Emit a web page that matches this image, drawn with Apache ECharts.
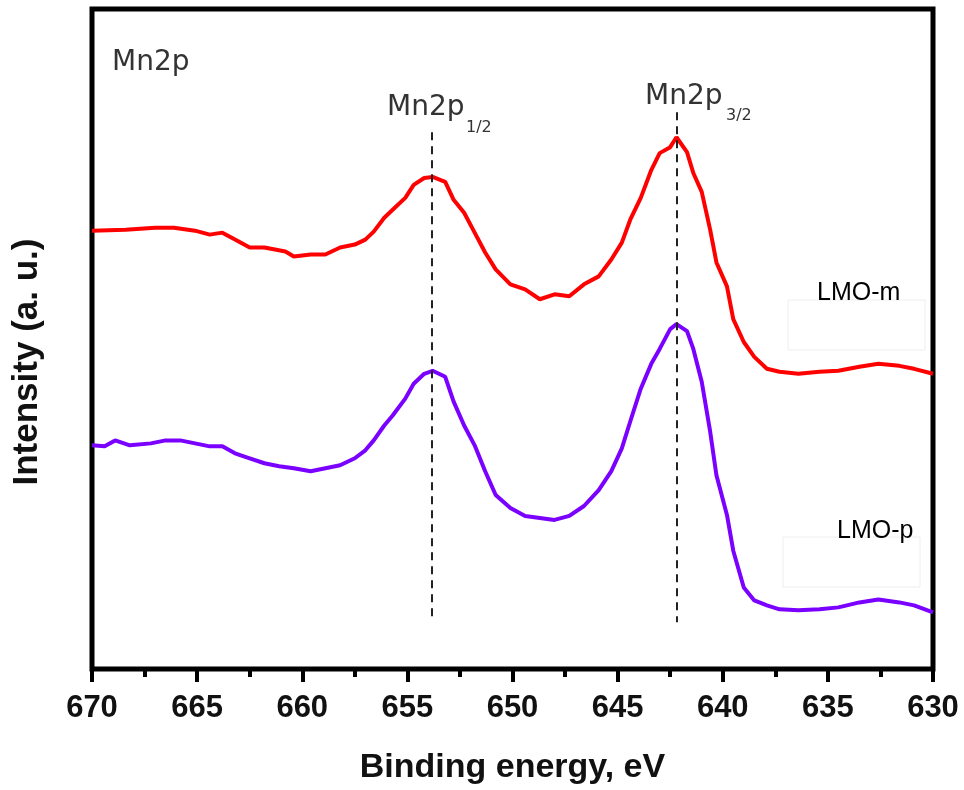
<!DOCTYPE html>
<html>
<head>
<meta charset="utf-8">
<script src="https://cdn.jsdelivr.net/npm/echarts@6/dist/echarts.min.js"></script>
<style>
  html, body { margin: 0; padding: 0; background: #fff; }
  #chart { width: 964px; height: 790px; }
</style>
</head>
<body>
<div id="chart"></div>
<script>
// Binding energy (eV) and intensity (a.u.)
const energyM = [670.0, 668.4, 667.0, 666.1, 665.1, 664.4, 663.8, 663.2, 662.5, 661.8, 660.8, 660.4, 659.6, 658.9, 658.2, 657.5, 657.0, 656.6, 656.1, 655.7, 655.1, 654.7, 654.2, 653.8, 653.2, 652.8, 652.3, 651.8, 651.3, 650.8, 650.1, 649.4, 648.7, 648.0, 647.3, 646.6, 645.9, 645.3, 644.8, 644.4, 643.9, 643.4, 643.0, 642.5, 642.2, 641.7, 641.4, 641.0, 640.6, 640.3, 639.8, 639.5, 639.0, 638.5, 637.9, 637.3, 636.4, 635.4, 634.5, 633.5, 632.6, 631.6, 630.9, 630.0];
const intensityM = [441, 442, 444, 444, 441, 437, 439, 432, 424, 424, 420, 415, 417, 417, 424, 427, 432, 440, 454, 462, 474, 487, 494, 495, 490, 472, 459, 439, 419, 402, 387, 382, 372, 377, 375, 387, 395, 412, 429, 452, 474, 502, 519, 525, 535, 520, 499, 480, 442, 409, 385, 352, 329, 314, 302, 299, 297, 299, 300, 304, 307, 305, 302, 297];

const energyP = [670.0, 669.4, 668.9, 668.2, 667.2, 666.5, 665.8, 665.1, 664.4, 663.8, 663.2, 662.5, 661.8, 661.1, 660.4, 659.6, 658.9, 658.2, 657.5, 657.0, 656.6, 656.1, 655.7, 655.1, 654.7, 654.2, 653.8, 653.2, 652.8, 652.3, 651.8, 651.3, 650.8, 650.1, 649.4, 648.7, 648.0, 647.3, 646.6, 645.9, 645.3, 644.8, 644.4, 643.9, 643.4, 643.0, 642.5, 642.2, 641.7, 641.4, 641.0, 640.6, 640.3, 639.8, 639.5, 639.0, 638.5, 637.9, 637.3, 636.4, 635.4, 634.5, 633.5, 632.6, 631.6, 630.9, 630.0];
const intensityP = [225, 224, 230, 225, 227, 230, 230, 227, 224, 224, 217, 212, 207, 204, 202, 199, 202, 205, 212, 220, 230, 245, 255, 272, 287, 297, 300, 294, 269, 245, 225, 199, 175, 162, 154, 152, 150, 154, 164, 180, 199, 222, 249, 282, 307, 322, 342, 347, 340, 322, 289, 239, 195, 155, 119, 82, 69, 64, 60, 59, 60, 62, 67, 70, 67, 64, 57];

const seriesNames = ['LMO-m', 'LMO-p'];
const peakNames = ['Mn2p', '1/2', '3/2'];
const peakEnergies = [653.85, 642.2];
const peakLineRanges = [[540, 50], [560, 47]];
const xTicks = { min: 630, max: 670, interval: 5 };

const chart = echarts.init(document.getElementById('chart'));
const FONT = 'Liberation Sans, Arial, sans-serif';
const AFONT = 'DejaVu Sans, sans-serif';

function pairs(xs, ys) { return xs.map((x, i) => [x, ys[i]]); }

chart.setOption({
  animation: false,
  backgroundColor: '#fff',
  grid: { left: 92, right: 31, top: 9, bottom: 117, show: true, borderColor: '#000', borderWidth: 5, backgroundColor: 'transparent' },
  xAxis: {
    type: 'value', inverse: true, min: xTicks.min, max: xTicks.max, interval: xTicks.interval,
    name: 'Binding energy, eV', nameLocation: 'middle', nameGap: 82,
    nameTextStyle: { fontFamily: FONT, fontSize: 34, fontWeight: 'bold', color: '#111' },
    axisLine: { show: false },
    axisTick: { show: true, inside: false, length: 13, lineStyle: { color: '#000', width: 4 } },
    minorTick: { show: true, splitNumber: 2, length: 8, lineStyle: { color: '#000', width: 4 } },
    axisLabel: { fontFamily: FONT, fontSize: 31, fontWeight: 'bold', color: '#111', margin: 24 },
    splitLine: { show: false }
  },
  yAxis: {
    type: 'value', min: 0, max: 664,
    axisLine: { show: false }, axisTick: { show: false }, axisLabel: { show: false }, splitLine: { show: false }
  },
  series: [
    {
      name: seriesNames[0], type: 'line', data: pairs(energyM, intensityM), showSymbol: false,
      lineStyle: { color: '#ff0000', width: 4 }, itemStyle: { color: '#ff0000' },
      markLine: {
        silent: true, symbol: 'none', label: { show: false },
        lineStyle: { color: '#222', width: 2, type: [8, 6] },
        data: peakEnergies.map((e, i) => [{ coord: [e, peakLineRanges[i][0]] }, { coord: [e, peakLineRanges[i][1]] }])
      }
    },
    {
      name: seriesNames[1], type: 'line', data: pairs(energyP, intensityP), showSymbol: false,
      lineStyle: { color: '#7a00ff', width: 4 }, itemStyle: { color: '#7a00ff' }
    }
  ],
  graphic: [
    { type: 'text', x: 112, y: 63, style: { text: peakNames[0], font: '28px ' + AFONT, fill: '#333', verticalAlign: 'middle' } },
    { type: 'text', x: 387, y: 108, style: { text: peakNames[0], font: '28px ' + AFONT, fill: '#333', verticalAlign: 'middle' } },
    { type: 'text', x: 466, y: 128, style: { text: peakNames[1], font: '16px ' + AFONT, fill: '#333', verticalAlign: 'middle' } },
    { type: 'text', x: 645, y: 97, style: { text: peakNames[0], font: '28px ' + AFONT, fill: '#333', verticalAlign: 'middle' } },
    { type: 'text', x: 726, y: 116, style: { text: peakNames[2], font: '16px ' + AFONT, fill: '#333', verticalAlign: 'middle' } },
    { type: 'rect', shape: { x: 788, y: 300, width: 137, height: 50 }, style: { fill: 'none', stroke: '#eeeeee', lineWidth: 1 } },
    { type: 'rect', shape: { x: 783, y: 537, width: 137, height: 50 }, style: { fill: 'none', stroke: '#eeeeee', lineWidth: 1 } },
    { type: 'text', x: 817, y: 293, style: { text: seriesNames[0], font: '25px ' + FONT, fill: '#000', verticalAlign: 'middle' } },
    { type: 'text', x: 837, y: 531, style: { text: seriesNames[1], font: '25px ' + FONT, fill: '#000', verticalAlign: 'middle' } },
    { type: 'text', x: 27, y: 362, rotation: Math.PI / 2,
      style: { text: 'Intensity (a. u.)', font: 'bold 35px ' + FONT, fill: '#111', align: 'center', verticalAlign: 'middle' } }
  ]
});
</script>
</body>
</html>
